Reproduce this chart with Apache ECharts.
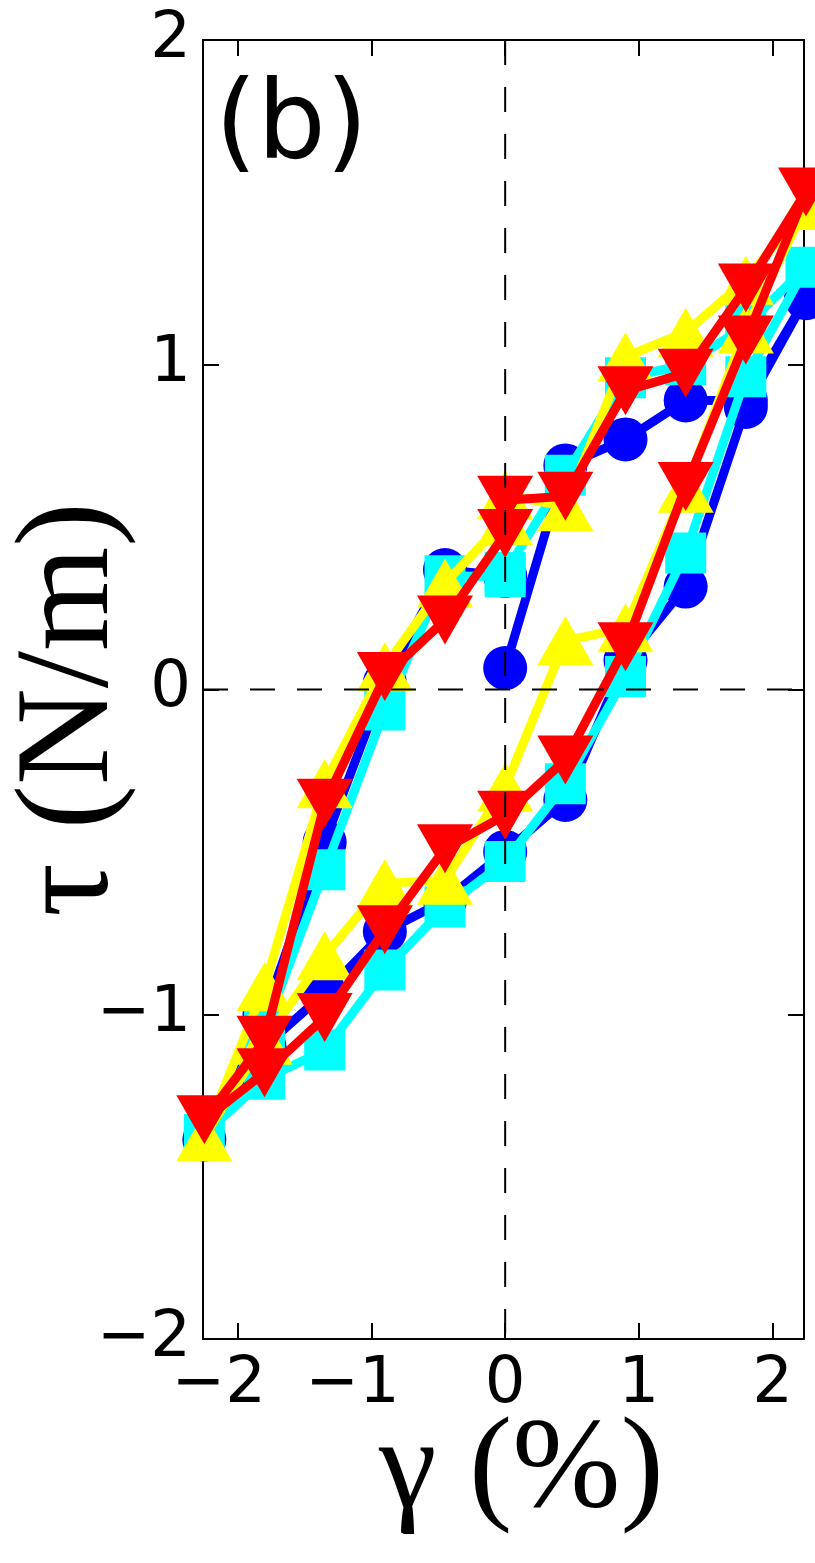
<!DOCTYPE html>
<html>
<head>
<meta charset="utf-8">
<script src="https://cdn.jsdelivr.net/npm/echarts@6/dist/echarts.min.js"></script>
<style>
  html, body { margin: 0; padding: 0; background: #ffffff; }
  #chart { width: 815px; height: 1563px; }
</style>
</head>
<body>
<div id="chart"></div>
<script>
// Strain protocol of one cycle: 0 -> +max -> -max -> 0 (in %)
const strain = [0, 0.45, 0.9, 1.35, 1.8, 2.25, 1.8, 1.35, 0.9, 0.45, 0,
                -0.45, -0.9, -1.35, -1.8, -2.25, -1.8, -1.35, -0.9, -0.45, 0];

// Shear stress tau (N/m) measured along each cycle
const stressBlue   = [0.066, 0.69, 0.77, 0.89, 0.89, 1.205, 0.87, 0.317, 0.09, -0.34, -0.50,
                      -0.65, -0.745, -0.935, -1.10, -1.386, -1.00, -0.47, 0.02, 0.368, 0.35];
const stressCyan   = [0.36, 0.66, 0.96, 1.00, 1.12, 1.30, 0.963, 0.42, 0.04, -0.29, -0.53,
                      -0.67, -0.864, -1.11, -1.20, -1.37, -1.05, -0.555, -0.063, 0.35, 0.347];
const stressYellow = [0.60, 0.563, 1.025, 1.10, 1.26, 1.49, 1.11, 0.62, 0.19, 0.15, -0.30,
                      -0.587, -0.597, -0.82, -1.08, -1.377, -0.915, -0.29, 0.07, 0.328, 0.52];
const stressRed    = [0.583, 0.595, 0.92, 0.974, 1.236, 1.532, 1.076, 0.625, 0.132, -0.217, -0.387,
                      -0.49, -0.74, -1.01, -1.18, -1.325, -1.08, -0.35, 0.04, 0.214, 0.48];

// Axis ranges and tick labels
const xRange = [-2.26, 2.235];
const yRange = [-2, 2];
const xTicks = [-2, -1, 0, 1, 2];
const yTicks = [-2, -1, 0, 1, 2];

const pairs = vals => strain.map((s, i) => [s, vals[i]]);
const fmt = v => (v < 0 ? '\u2212' + Math.abs(v) : String(v));

const ink = '#000000';
const tickFont = { fontFamily: 'DejaVu Sans', fontSize: 64, color: ink };

function axisBase(show) {
  return {
    type: 'value',
    splitLine: { show: false },
    axisLine: { show: true, onZero: false, lineStyle: { color: ink, width: 2 } },
    axisTick: { show: true, inside: true, length: 16, lineStyle: { color: ink, width: 2 } },
    axisLabel: Object.assign({ show: show, formatter: fmt, showMinLabel: true, showMaxLabel: true }, tickFont)
  };
}

const xBottom = Object.assign(axisBase(true), {
  position: 'bottom', min: xRange[0], max: xRange[1],
  name: 'γ (%)', nameLocation: 'middle', nameGap: 68, nameMoveOverlap: false,
  nameTextStyle: { fontFamily: 'Liberation Serif', fontSize: 130, color: ink, padding: [0, 0, 0, 36] }
});
xBottom.axisTick.customValues = xTicks;
xBottom.axisLabel.customValues = xTicks;
xBottom.axisLabel.margin = 14;
// negative labels sit slightly left of their tick, with the minus sign hanging out
xBottom.axisLabel.formatter = v => (v < 0 ? '{neg|' + fmt(v) + '}' : fmt(v));
xBottom.axisLabel.rich = {
  neg: { fontFamily: 'DejaVu Sans', fontSize: 64, color: ink, padding: [0, 38, 0, 0] }
};

const xTop = Object.assign(axisBase(false), { position: 'top', min: xRange[0], max: xRange[1] });
xTop.axisTick.customValues = xTicks;

const yLeft = Object.assign(axisBase(true), {
  position: 'left', min: yRange[0], max: yRange[1], interval: 1,
  name: 'τ (N/m)', nameLocation: 'middle', nameGap: 64, nameMoveOverlap: false,
  nameTextStyle: { fontFamily: 'Liberation Serif', fontSize: 134, color: ink, padding: [0, 40, 0, 0] }
});
yLeft.axisLabel.margin = 12;
yLeft.axisLabel.customValues = yTicks;

const yRight = Object.assign(axisBase(false), { position: 'right', min: yRange[0], max: yRange[1], interval: 1 });

function loop(name, vals, color, symbol, size, rotate, z) {
  return {
    name: name, type: 'line', data: pairs(vals), xAxisIndex: 0, yAxisIndex: 0,
    clip: false, z: z,
    lineStyle: { color: color, width: 9 },
    itemStyle: { color: color, borderWidth: 0 },
    symbol: symbol, symbolSize: size, symbolRotate: rotate, showAllSymbol: true
  };
}

function zeroLine(points) {
  return {
    type: 'line', data: points, xAxisIndex: 0, yAxisIndex: 0, z: 20,
    symbol: 'none', silent: true,
    lineStyle: { color: ink, width: 2, type: [25, 22] }
  };
}

const chart = echarts.init(document.getElementById('chart'));
chart.setOption({
  animation: false,
  backgroundColor: '#ffffff',
  grid: { left: 203, right: 11, top: 40, bottom: 224, containLabel: false, outerBoundsMode: 'none' },
  xAxis: [xBottom, xTop],
  yAxis: [yLeft, yRight],
  graphic: [{
    type: 'text', left: 215, top: 76, z: 30,
    style: { text: '(b)', fontFamily: 'DejaVu Sans', fontSize: 108, fill: ink }
  }],
  series: [
    loop('cycle 1', stressBlue, '#0000ff', 'circle', 44, 0, 2),
    loop('cycle 2', stressCyan, '#00ffff', 'rect', 41, 0, 3),
    loop('cycle 3', stressYellow, '#ffff00', 'triangle', [56, 49], 0, 4),
    loop('cycle 4', stressRed, '#ff0000', 'triangle', [56, 49], 180, 5),
    zeroLine([[0, yRange[1]], [0, yRange[0]]]),
    zeroLine([[xRange[0], 0], [xRange[1], 0]])
  ]
});
</script>
</body>
</html>
